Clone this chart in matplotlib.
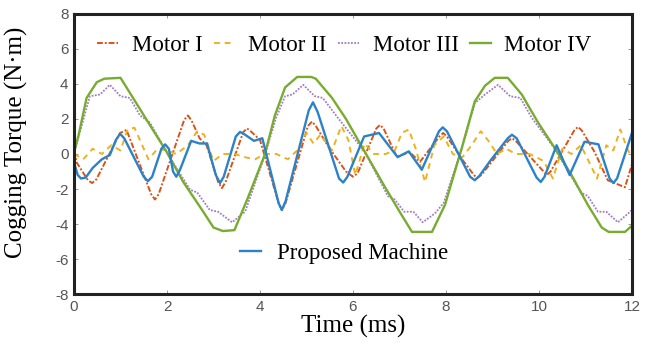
import matplotlib
matplotlib.use("Agg")
import matplotlib.pyplot as plt

plt.rcParams["axes.unicode_minus"] = False

# time (ms) and cogging torque (N*m) for each machine
t_m1 = [0, 0.06, 0.3, 0.39, 0.48, 0.99, 1.13, 1.66, 1.74, 1.82, 2.37, 2.45, 2.53,
        2.7, 2.85, 3.1, 3.18, 3.26, 3.64, 3.72, 3.8, 4.0, 4.4, 4.47, 4.55, 5.03,
        5.12, 5.2, 5.5, 5.85, 6.0, 6.1, 6.5, 6.58, 6.66, 6.94, 7.22, 7.44, 7.86,
        7.94, 8.02, 8.36, 8.6, 8.67, 8.76, 9.34, 9.42, 9.5, 10.1, 10.17, 10.25,
        10.76, 10.84, 10.92, 11.2, 11.48, 11.85, 12.0]
v_m1 = [0.2, -0.5, -1.5, -1.66, -1.45, 1.2, 1.37, -2.3, -2.6, -2.3, 1.95, 2.2, 1.9,
        0.9, 0.5, -1.6, -1.95, -1.6, 1.25, 1.46, 1.3, 0.8, -2.8, -3.2, -2.8, 1.6,
        1.85, 1.6, 0.3, -1.0, -1.3, -1.1, 1.45, 1.66, 1.45, -0.15, 0.1, -0.45, 1.0,
        1.2, 1.0, -0.35, -1.2, -1.37, -1.2, 0.75, 0.9, 0.75, -1.0, -1.2, -1.0,
        1.35, 1.55, 1.35, 0.1, -1.5, -1.9, -0.6]

t_m2 = [0.0, 0.2, 0.4, 0.6, 0.8, 1.0, 1.15, 1.3, 1.45, 1.6, 1.8, 2.0, 2.2, 2.45,
        2.65, 2.8, 3.0, 3.2, 3.45, 3.7, 3.9, 4.1, 4.35, 4.6, 4.8, 5.0, 5.15, 5.3,
        5.55, 5.75, 5.9, 6.05, 6.25, 6.45, 6.7, 6.9, 7.05, 7.2, 7.35, 7.55, 7.75,
        7.95, 8.15, 8.35, 8.55, 8.75, 8.9, 9.1, 9.3, 9.5, 9.8, 10.1, 10.3, 10.5,
        10.7, 10.9, 11.05, 11.25, 11.45, 11.6, 11.75, 11.9, 12.0]
v_m2 = [0.0, -0.3, 0.3, 0.0, 0.5, 0.2, 1.4, 1.5, 0.6, -0.3, 0.3, 0.2, 0.0, 0.5,
        1.3, 1.1, -0.4, 0.0, 0.0, -0.2, -0.3, 0.0, 0.0, -0.3, 0.2, 1.2, 0.6, 1.1,
        0.2, 1.6, 0.8, -1.2, 0.6, 0.0, 0.0, 0.2, 1.2, 1.4, 0.3, -1.6, 0.5,
        1.0, 0.0, -0.2, 0.5, 1.3, 0.8, 0.0, 0.3, 0.0, 0.0, -0.4, -1.4, 0.3,
        0.0, 0.5, -0.3, -1.4, 0.5, 0.2, 1.4, 0.3, -0.2]

t_m3 = [0, 0.1, 0.34, 0.56, 0.77, 1.0, 1.2, 1.42, 1.63, 2.06, 2.5, 2.65, 2.92,
        3.1, 3.4, 3.68, 4.1, 4.35, 4.54, 4.7, 4.93, 5.18, 5.35, 5.68, 6.26, 6.75,
        6.9, 7.1, 7.3, 7.5, 7.76, 7.95, 8.34, 8.62, 8.84, 9.12, 9.38, 9.6, 9.85,
        10.34, 10.9, 11.05, 11.27, 11.45, 11.7, 11.96, 12.0]
v_m3 = [0.0, 1.0, 3.3, 3.4, 3.95, 3.3, 3.2, 2.2, 1.8, -0.2, -2.05, -2.2, -3.2,
        -3.3, -3.9, -3.3, -0.1, 2.1, 3.3, 3.4, 3.95, 3.3, 3.2, 2.05, 0.1, -2.4,
        -2.6, -3.3, -3.3, -3.9, -3.4, -2.8, 0.3, 2.9, 3.4, 3.95, 3.3, 3.2, 2.05,
        0.3, -2.2, -2.4, -3.3, -3.3, -3.9, -3.3, -3.2]

t_m4 = [0, 0.1, 0.27, 0.49, 0.65, 1.0, 1.27, 1.63, 1.99, 2.35, 2.78, 3.0, 3.2,
        3.45, 3.74, 4.1, 4.32, 4.54, 4.8, 5.1, 5.2, 5.55, 5.85, 6.26, 6.69, 7.05,
        7.27, 7.7, 7.98, 8.34, 8.62, 8.84, 9.05, 9.33, 9.63, 9.98, 10.34, 10.7,
        11.05, 11.35, 11.5, 11.85, 12.0]
v_m4 = [0.1, 1.1, 3.2, 4.1, 4.3, 4.35, 3.2, 1.66, 0.13, -1.6, -3.3, -4.2, -4.4,
        -4.35, -2.5, -0.06, 2.2, 3.8, 4.4, 4.4, 4.3, 3.2, 2.0, 0.1, -1.9, -3.5,
        -4.45, -4.45, -2.9, 0.34, 3.0, 3.9, 4.35, 4.35, 3.4, 1.8, 0.34, -1.2,
        -2.9, -4.2, -4.45, -4.45, -4.1]

t_pm = [0, 0.08, 0.15, 0.25, 0.4, 0.6, 0.77, 0.9, 0.99, 1.08, 1.5, 1.59, 1.68,
        1.88, 1.96, 2.04, 2.13, 2.2, 2.28, 2.52, 2.7, 2.86, 3.05, 3.14, 3.22,
        3.48, 3.57, 3.68, 3.87, 4.05, 4.4, 4.47, 4.55, 5.05, 5.14, 5.24, 5.7,
        5.79, 5.88, 6.24, 6.56, 6.96, 7.2, 7.48, 7.85, 7.93, 8.02, 8.52, 8.62,
        8.72, 8.95, 9.33, 9.42, 9.52, 9.95, 10.04, 10.12, 10.38, 10.66, 10.98,
        11.28, 11.52, 11.6, 11.68, 12.0]
v_pm = [-0.5, -1.2, -1.4, -1.35, -0.8, -0.3, -0.06, 0.8, 1.15, 0.9, -1.3, -1.55,
        -1.3, 0.3, 0.55, 0.3, -1.0, -1.3, -0.9, 0.75, 0.6, 0.6, -1.2, -1.66, -1.3,
        1.0, 1.26, 1.1, 0.75, 0.9, -2.8, -3.2, -2.7, 2.5, 2.95, 2.4, -1.4,
        -1.63, -1.3, 1.0, 1.2, -0.18, 0.15, -0.9, 1.3, 1.52, 1.3, -1.3, -1.5,
        -1.25, -0.4, 0.9, 1.1, 0.9, -1.35, -1.6, -1.3, 0.5, -1.2, 0.7,
        0.55, -1.4, -1.66, -1.4, 1.2]

serif = "Liberation Serif"

fig = plt.figure(figsize=(6.51, 3.48), dpi=100)
ax = fig.add_axes([0.1137, 0.155, 0.857, 0.805])

l1, = ax.plot(t_m1, v_m1, color="#D95319", lw=1.4, ls=(0, (3, 1, 1, 1)), label="Motor I")
l2, = ax.plot(t_m2, v_m2, color="#EDB120", lw=1.4, ls=(0, (3, 2.5)), label="Motor II")
l3, = ax.plot(t_m3, v_m3, color="#A47BC2", lw=1.3, ls=(0, (1, 0.8)), label="Motor III")
l4, = ax.plot(t_m4, v_m4, color="#77AC30", lw=1.7, label="Motor IV")
l5, = ax.plot(t_pm, v_pm, color="#2B82C9", lw=1.7, label="Proposed Machine")

ax.set_xlim(0, 12)
ax.set_ylim(-8, 8)
ax.set_xticks(range(0, 13, 2))
ax.set_yticks(range(-8, 9, 2))
ax.tick_params(direction="in", top=True, right=True, length=3, width=0.6,
               color="#888888", labelcolor="#555555", labelsize=11, pad=4)
for lbl in ax.get_xticklabels() + ax.get_yticklabels():
    lbl.set_family("Liberation Sans")
for sp in ax.spines.values():
    sp.set_linewidth(2.2)
    sp.set_color("#222222")

ax.set_xlabel("Time (ms)", family=serif, fontsize=18, labelpad=1)
ax.set_ylabel("Cogging Torque (N\u00b7m)", family=serif, fontsize=18)
ax.yaxis.set_label_coords(-0.083, 0.54)

leg_top = ax.legend(handles=[l1, l2, l3, l4], loc="center", bbox_to_anchor=(0.485, 0.889),
                    ncol=4, frameon=False, handlelength=0.9, handletextpad=0.6,
                    columnspacing=0.5, prop={"family": serif, "size": 16.5})
ax.add_artist(leg_top)
ax.legend(handles=[l5], loc="center", bbox_to_anchor=(0.484, 0.146), frameon=False,
          handlelength=0.9, handletextpad=0.7, prop={"family": serif, "size": 16.5})

fig.savefig("out.png", dpi=100)
